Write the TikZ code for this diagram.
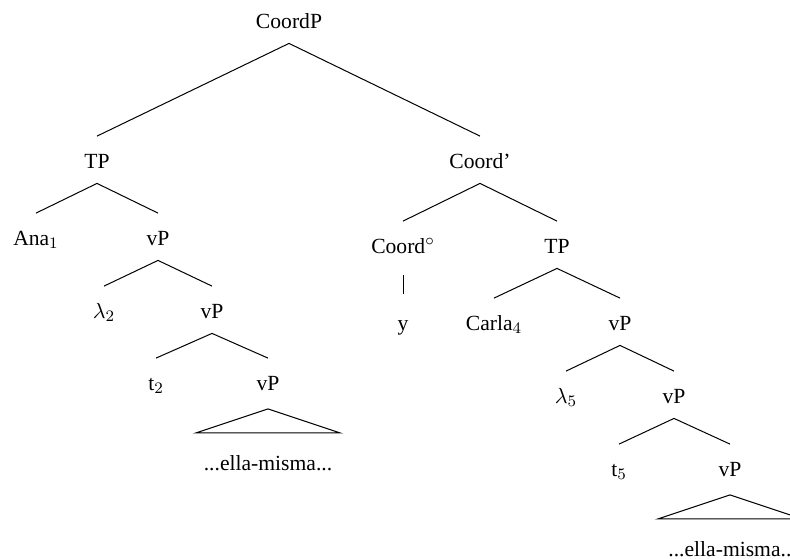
\documentclass[tikz,border=0pt]{standalone}
\usepackage{fontspec}
\setmainfont{Liberation Serif}
\begin{document}
\begin{tikzpicture}[x=0.5pt,y=-0.5pt,
  lbl/.style={anchor=base, inner xsep=0pt, inner ysep=7.5pt, text height=8.25pt, text depth=0pt, font=\fontsize{10.8}{13}\selectfont},
  edge/.style={line width=0.5pt}]
\useasboundingbox (0,0) rectangle (790,558);
\clip (0,0) rectangle (790,558);
% nodes
\node[lbl] (root) at (289,28) {CoordP};
\node[lbl] (tp1) at (97,168) {TP};
\node[lbl] (cbar) at (480,168) {Coord’};
\node[lbl] (ana) at (36,245) {Ana$_1$};
\node[lbl] (vp1) at (158,245) {vP};
\node[lbl] (lam2) at (104,318) {$\lambda_2$};
\node[lbl] (vp2) at (212,318) {vP};
\node[lbl] (t2) at (156,390) {t$_2$};
\node[lbl] (vp3) at (268,390) {vP};
\node[lbl] (em1) at (268,470) {...ella-misma...};
\node[lbl] (cdeg) at (403,253) {Coord$^\circ$};
\node[lbl] (tp2) at (557,253) {TP};
\node[lbl] (yy) at (403,330) {y};
\node[lbl] (carla) at (494,330) {Carla$_4$};
\node[lbl] (vp4) at (620,330) {vP};
\node[lbl] (lam5) at (566,403) {$\lambda_5$};
\node[lbl] (vp5) at (674,403) {vP};
\node[lbl] (t5) at (619,476) {t$_5$};
\node[lbl] (vp6) at (730,476) {vP};
\node[lbl, anchor=base west] (em2) at (668,556) {...ella-misma..};
% edges
\draw[edge] (root.south) -- (tp1.north);
\draw[edge] (root.south) -- (cbar.north);
\draw[edge] (tp1.south) -- (ana.north);
\draw[edge] (tp1.south) -- (vp1.north);
\draw[edge] (vp1.south) -- (lam2.north);
\draw[edge] (vp1.south) -- (vp2.north);
\draw[edge] (vp2.south) -- (t2.north);
\draw[edge] (vp2.south) -- (vp3.north);
\draw[edge] ([yshift=-1.75pt]vp3.south) -- ++(-72,24) -- ++(144,0) -- cycle;
\draw[edge] (cbar.south) -- (cdeg.north);
\draw[edge] (cbar.south) -- (tp2.north);
\draw[edge] ([yshift=-3.5pt]cdeg.south) -- ([yshift=2.25pt]yy.north);
\draw[edge] (tp2.south) -- (carla.north);
\draw[edge] (tp2.south) -- (vp4.north);
\draw[edge] (vp4.south) -- (lam5.north);
\draw[edge] (vp4.south) -- (vp5.north);
\draw[edge] (vp5.south) -- (t5.north);
\draw[edge] (vp5.south) -- (vp6.north);
\draw[edge] ([yshift=-1.75pt]vp6.south) -- ++(-72,24) -- ++(144,0) -- cycle;
\end{tikzpicture}
\end{document}
